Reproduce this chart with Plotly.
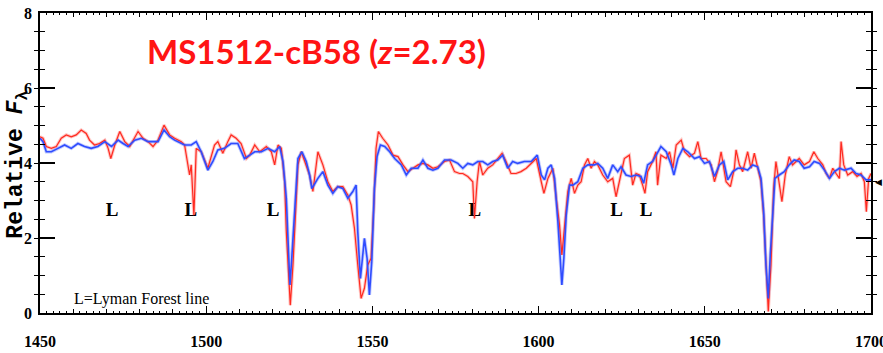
import plotly.graph_objects as go

# ---------------- data ----------------
red_wave = [1450.0, 1450.9, 1451.9, 1453.4, 1454.9, 1456.4, 1457.9, 1459.4, 1460.9, 1462.4,
            1463.9, 1464.9, 1466.4, 1467.9, 1469.5, 1470.5, 1471.3, 1472.5, 1474.0, 1475.5,
            1477.0, 1478.5, 1479.5, 1481.0, 1482.5, 1484.0, 1485.5, 1487.3, 1489.0, 1490.5,
            1492.5, 1493.5, 1495.0, 1495.5, 1496.3, 1497.0, 1498.5, 1500.5, 1502.5, 1503.5,
            1505.0, 1506.5, 1507.5, 1509.0, 1510.5, 1512.1, 1513.1, 1514.6, 1516.1, 1518.1,
            1519.6, 1520.6, 1521.6, 1522.6, 1523.6, 1524.1, 1524.8, 1525.3, 1526.1, 1526.8,
            1527.6, 1528.6, 1530.1, 1531.1, 1532.1, 1533.6, 1535.1, 1536.6, 1538.1, 1539.6,
            1541.1, 1542.6, 1543.6, 1544.6, 1545.6, 1546.6, 1547.6, 1548.6, 1549.6, 1550.4,
            1551.1, 1551.8, 1553.1, 1554.7, 1556.2, 1557.7, 1559.2, 1560.7, 1562.2, 1563.7,
            1565.2, 1566.7, 1568.2, 1569.7, 1571.7, 1573.2, 1574.7, 1576.2, 1577.2, 1578.7,
            1580.2, 1580.7, 1581.5, 1582.2, 1583.2, 1584.7, 1586.2, 1587.7, 1589.0, 1590.2,
            1591.7, 1593.2, 1594.7, 1596.3, 1597.8, 1599.3, 1600.8, 1601.6, 1602.8, 1604.3,
            1605.3, 1606.3, 1607.0, 1607.8, 1608.8, 1609.8, 1610.8, 1611.8, 1612.8, 1613.8,
            1614.8, 1615.8, 1616.8, 1617.8, 1619.3, 1620.8, 1622.3, 1623.3, 1624.3, 1625.8,
            1627.3, 1628.3, 1629.3, 1630.3, 1631.3, 1632.0, 1632.8, 1634.3, 1635.3, 1635.8,
            1636.8, 1638.4, 1639.4, 1640.4, 1641.4, 1642.9, 1643.9, 1645.4, 1646.9, 1647.9,
            1648.9, 1650.4, 1651.9, 1652.9, 1653.9, 1654.9, 1656.4, 1657.7, 1658.9, 1659.4,
            1660.4, 1661.4, 1662.9, 1663.9, 1664.9, 1665.9, 1666.9, 1667.7, 1668.4, 1669.1,
            1669.9, 1670.7, 1671.4, 1672.4, 1673.2, 1674.2, 1675.4, 1676.4, 1677.4, 1678.4,
            1679.9, 1681.5, 1682.8, 1684.0, 1685.5, 1686.5, 1687.5, 1688.5, 1689.5, 1690.5,
            1691.0, 1691.8, 1693.0, 1694.5, 1695.8, 1697.0, 1698.0, 1698.6, 1699.3, 1700.0]
red_flux = [4.70, 4.66, 4.44, 4.39, 4.44, 4.66, 4.75, 4.70, 4.75, 4.88,
            4.79, 4.61, 4.48, 4.52, 4.61, 4.39, 4.12, 4.48, 4.84, 4.57,
            4.44, 4.66, 4.84, 4.66, 4.57, 4.44, 4.61, 5.01, 4.75, 4.66,
            4.57, 4.48, 3.68, 3.95, 2.61, 4.39, 4.30, 3.86, 4.48, 4.57,
            4.26, 4.57, 4.75, 4.66, 4.52, 4.12, 4.21, 4.48, 4.30, 4.44,
            4.30, 3.95, 4.48, 4.39, 3.50, 2.17, 1.10, 0.21, 1.28, 2.61,
            3.95, 4.30, 3.95, 3.68, 3.24, 4.30, 3.95, 3.50, 3.24, 3.37,
            3.37, 3.15, 2.88, 2.26, 1.28, 0.39, 0.66, 1.28, 1.46, 2.79,
            4.39, 4.84, 4.66, 4.48, 4.21, 4.17, 3.95, 3.77, 3.86, 3.95,
            3.99, 3.95, 3.86, 3.90, 4.04, 4.08, 3.77, 3.72, 3.72, 3.64,
            3.50, 2.52, 3.50, 4.04, 3.68, 3.86, 3.95, 4.12, 4.26, 4.04,
            3.72, 3.72, 3.77, 3.86, 3.99, 4.12, 3.50, 3.19, 3.59, 3.86,
            3.06, 2.35, 1.55, 2.35, 3.24, 3.59, 3.19, 3.41, 3.50, 3.95,
            4.12, 3.86, 4.04, 3.95, 3.68, 3.50, 3.59, 3.10, 3.50, 4.12,
            4.21, 3.41, 3.72, 3.68, 3.41, 3.19, 3.77, 4.04, 4.30, 3.41,
            4.21, 4.12, 4.30, 3.86, 4.48, 4.61, 4.30, 4.17, 4.26, 4.57,
            4.12, 4.12, 3.95, 3.50, 3.81, 4.30, 3.50, 3.37, 3.86, 4.35,
            3.95, 3.77, 4.30, 3.86, 4.26, 3.86, 3.50, 2.61, 1.28, 0.04,
            1.28, 3.32, 4.04, 3.41, 2.97, 3.68, 4.17, 3.95, 4.04, 4.12,
            3.95, 4.04, 4.30, 4.12, 3.95, 3.72, 3.59, 3.86, 3.72, 3.59,
            4.57, 3.95, 3.68, 3.77, 3.64, 3.72, 3.50, 2.70, 3.59, 3.72]

blue_wave = [1450.0, 1450.9, 1451.9, 1453.4, 1455.4, 1457.4, 1459.4, 1461.4, 1463.4, 1465.4,
             1467.4, 1469.5, 1471.5, 1473.5, 1475.0, 1476.5, 1478.5, 1480.5, 1482.5, 1484.0,
             1485.5, 1487.3, 1489.0, 1490.5, 1492.5, 1493.5, 1495.5, 1497.0, 1498.5, 1500.5,
             1502.0, 1503.5, 1505.5, 1507.5, 1509.5, 1511.5, 1513.1, 1514.6, 1516.6, 1518.6,
             1520.6, 1522.1, 1523.1, 1524.1, 1524.8, 1525.2, 1525.8, 1526.6, 1527.6, 1528.8,
             1530.1, 1531.1, 1531.8, 1533.6, 1535.1, 1536.6, 1538.1, 1539.6, 1541.1, 1542.6,
             1544.1, 1545.1, 1545.6, 1546.4, 1547.1, 1547.6, 1548.4, 1549.1, 1549.8, 1550.6,
             1551.4, 1552.4, 1553.7, 1555.2, 1556.7, 1558.7, 1560.2, 1561.7, 1563.7, 1565.2,
             1566.7, 1568.2, 1569.7, 1571.7, 1573.7, 1575.7, 1577.2, 1578.7, 1580.2, 1581.7,
             1583.2, 1584.7, 1586.2, 1587.7, 1589.2, 1590.7, 1592.2, 1593.7, 1595.7, 1597.8,
             1599.6, 1600.8, 1601.8, 1602.8, 1603.8, 1604.8, 1605.8, 1606.6, 1607.0, 1607.6,
             1608.3, 1609.3, 1610.3, 1611.8, 1613.3, 1614.8, 1616.8, 1617.8, 1619.3, 1620.8,
             1622.3, 1623.8, 1624.8, 1626.3, 1627.8, 1629.3, 1630.8, 1631.6, 1632.8, 1634.3,
             1635.8, 1636.8, 1638.4, 1639.9, 1640.7, 1641.9, 1643.4, 1644.9, 1646.9, 1648.4,
             1649.9, 1651.4, 1652.9, 1654.4, 1655.7, 1656.9, 1658.4, 1659.9, 1661.4, 1662.9,
             1664.4, 1665.9, 1666.9, 1667.7, 1668.4, 1669.1, 1669.7, 1670.4, 1671.1, 1672.4,
             1673.9, 1675.4, 1676.9, 1678.4, 1679.9, 1681.5, 1682.9, 1684.5, 1686.0, 1687.5,
             1689.0, 1690.5, 1692.0, 1694.0, 1695.5, 1697.0, 1698.5, 1700.0]
blue_flux = [4.66, 4.57, 4.30, 4.30, 4.39, 4.48, 4.39, 4.52, 4.44, 4.39,
             4.44, 4.57, 4.44, 4.61, 4.52, 4.44, 4.61, 4.66, 4.57, 4.57,
             4.57, 4.88, 4.70, 4.61, 4.52, 4.48, 4.48, 4.57, 4.30, 3.81,
             4.04, 4.35, 4.39, 4.52, 4.52, 4.12, 4.21, 4.30, 4.30, 4.39,
             4.30, 4.44, 4.04, 3.06, 1.55, 0.75, 1.55, 2.79, 4.12, 4.30,
             4.04, 3.68, 3.32, 3.59, 3.77, 3.41, 3.19, 3.37, 3.32, 3.06,
             3.24, 3.41, 2.17, 0.92, 1.55, 1.99, 1.46, 0.48, 1.37, 3.32,
             4.17, 4.48, 4.44, 4.30, 4.12, 3.95, 3.68, 3.86, 3.86, 4.08,
             3.86, 3.81, 3.86, 4.08, 4.08, 3.99, 3.86, 3.99, 3.95, 4.04,
             4.04, 3.95, 4.04, 4.08, 4.21, 3.86, 4.04, 3.99, 4.04, 4.04,
             4.21, 3.68, 3.55, 3.86, 3.95, 3.59, 2.44, 1.28, 0.75, 1.46,
             2.61, 3.41, 3.41, 3.50, 3.86, 3.95, 3.95, 3.99, 3.86, 3.59,
             3.95, 3.77, 3.90, 3.68, 3.64, 3.68, 3.64, 3.46, 3.95, 4.04,
             4.30, 4.44, 4.30, 3.95, 3.68, 4.12, 4.39, 4.30, 4.12, 4.17,
             3.99, 4.04, 3.64, 3.95, 4.04, 3.55, 3.77, 3.86, 3.86, 3.81,
             3.95, 3.90, 3.59, 2.70, 1.28, 0.39, 1.55, 2.61, 3.59, 3.68,
             3.77, 3.95, 4.08, 4.04, 3.86, 3.90, 4.04, 3.99, 3.81, 3.59,
             3.77, 3.86, 3.81, 3.86, 3.72, 3.68, 3.55, 3.55]

lyman_lines = [1471.7, 1495.4, 1520.1, 1580.8, 1623.5, 1632.3]
x_tick_values = list(range(1450, 1701, 50))
x_tick_labels = [str(v) for v in x_tick_values]
y_tick_values = [0, 2, 4, 6, 8]
y_tick_labels = ["0", "2", "4", "6", "8"]

X_RANGE = [1450, 1700]
Y_RANGE = [0, 8]
SERIF = "Liberation Serif, DejaVu Serif, serif"
L_LEVEL = 2.72

fig = go.Figure()
# soft halos (same data) to mimic the blurry scan
fig.add_trace(go.Scatter(x=red_wave, y=red_flux, mode="lines", xaxis="x", yaxis="y",
                         line=dict(color="rgba(255,90,80,0.35)", width=3.2), hoverinfo="skip"))
fig.add_trace(go.Scatter(x=blue_wave, y=blue_flux, mode="lines", xaxis="x", yaxis="y",
                         line=dict(color="rgba(80,110,255,0.35)", width=3.4), hoverinfo="skip"))
fig.add_trace(go.Scatter(x=lyman_lines, y=[L_LEVEL] * len(lyman_lines), mode="text",
                         text=["<b>L</b>"] * len(lyman_lines), xaxis="x", yaxis="y",
                         textfont=dict(family=SERIF, size=19, color="black")))
# main lines on overlay axes (these axes carry the extra tick sets)
fig.add_trace(go.Scatter(x=red_wave, y=red_flux, mode="lines", xaxis="x2", yaxis="y2",
                         line=dict(color="#ff2a20", width=1.2)))
fig.add_trace(go.Scatter(x=blue_wave, y=blue_flux, mode="lines", xaxis="x3", yaxis="y2",
                         line=dict(color="#2f4cff", width=1.6)))

base = dict(showgrid=False, zeroline=False, mirror="allticks", ticks="inside",
            tickcolor="black", automargin=False)

fig.update_layout(
    width=883, height=353,
    margin=dict(l=40, r=12, t=13, b=40),
    paper_bgcolor="white", plot_bgcolor="white",
    showlegend=False,
    xaxis=dict(range=X_RANGE, tickmode="array", tickvals=x_tick_values,
               ticktext=["<b>%s</b>" % t for t in x_tick_labels], ticklen=7, tickwidth=1.2,
               ticklabelstandoff=13, ticklabeloverflow="allow",
               tickfont=dict(family=SERIF, size=16, color="black"),
               showline=True, linecolor="black", linewidth=1.5, **base),
    xaxis2=dict(range=X_RANGE, overlaying="x", anchor="y", showticklabels=False,
                tickmode="linear", tick0=1450, dtick=10, ticklen=4, tickwidth=1,
                showline=False, **base),
    xaxis3=dict(range=X_RANGE, overlaying="x", anchor="y", showticklabels=False,
                tickmode="linear", tick0=1450, dtick=2, ticklen=2, tickwidth=1,
                showline=False, **base),
    yaxis=dict(range=Y_RANGE, tickmode="array", tickvals=y_tick_values,
               ticktext=["<b>%s</b>" % t for t in y_tick_labels],
               ticklen=15, tickwidth=1.5, ticklabelstandoff=3,
               tickfont=dict(family=SERIF, size=16, color="black"),
               showline=True, linecolor="black", linewidth=1.5, **base),
    yaxis2=dict(range=Y_RANGE, overlaying="y", anchor="x", showticklabels=False,
                tickmode="linear", tick0=0, dtick=0.5, ticklen=5, tickwidth=1,
                showline=False, **base),
)

fig.add_annotation(x=1481.6, y=7.0, xref="x", yref="y", xanchor="left", yanchor="middle",
                   text="<b>MS1512-cB58 (<i>z</i>=2.73)</b>", showarrow=False,
                   font=dict(family="Lato, Open Sans, sans-serif", size=33, color="#ff1414"))
fig.add_annotation(x=1459.6, y=0.37, xref="x", yref="y", xanchor="left", yanchor="middle",
                   text="L=Lyman Forest line", showarrow=False,
                   font=dict(family=SERIF, size=16, color="black"))
fig.add_annotation(x=-0.027, y=0.493, xref="paper", yref="paper", textangle=-90,
                   xanchor="center", yanchor="middle",
                   text="<b>Relative <i>F</i><sub>λ</sub></b>", showarrow=False,
                   font=dict(family="Liberation Mono, DejaVu Sans Mono, monospace",
                             size=23, color="black"))
fig.add_annotation(x=1.003, y=0.44, xref="paper", yref="paper", xanchor="left",
                   text="◀", showarrow=False, font=dict(size=9, color="black"))

fig.write_html("out.html")
